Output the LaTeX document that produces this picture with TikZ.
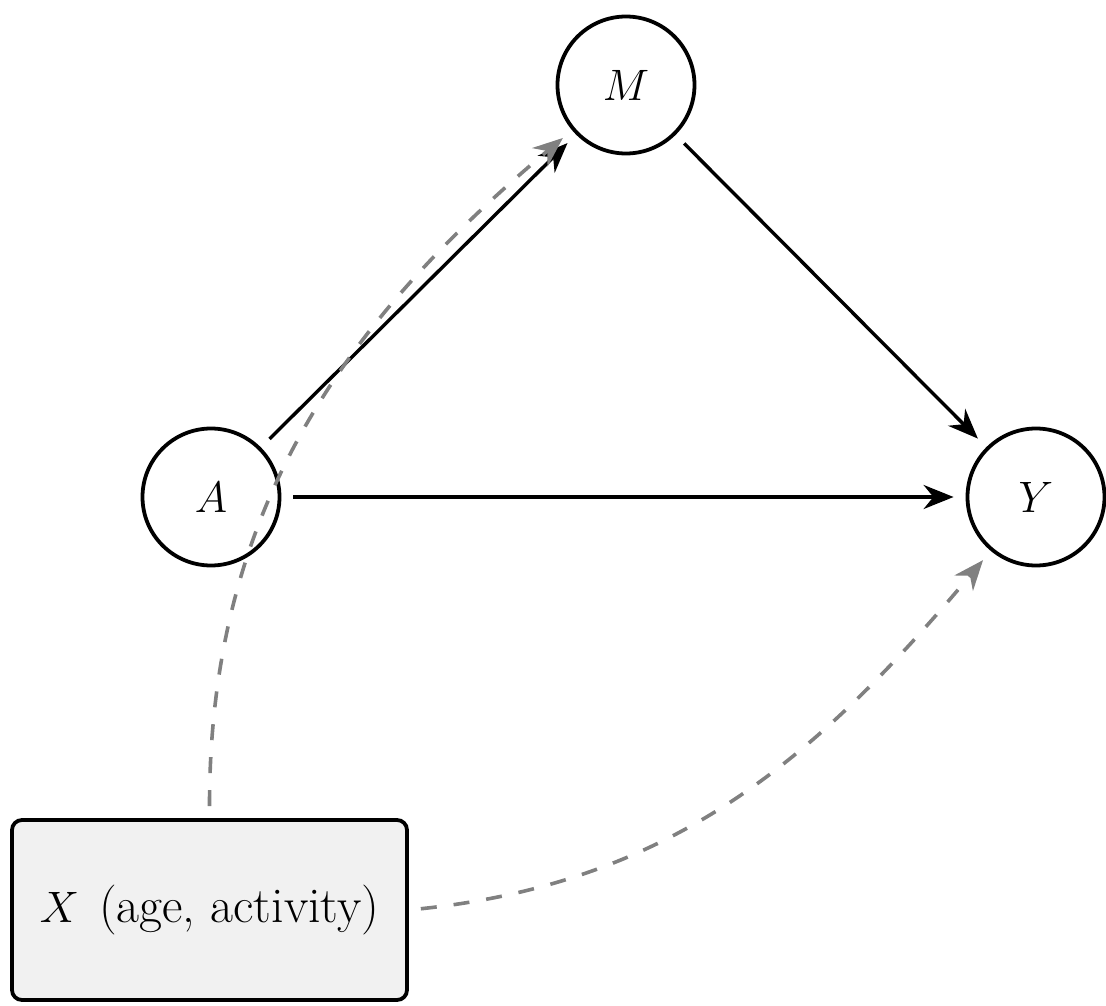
\RequirePackage{fix-cm}
\documentclass[tikz,border=0pt]{standalone}
\usetikzlibrary{arrows.meta}
\begin{document}
\begin{tikzpicture}[x=1pt,y=-1pt,
  every node/.style={font=\fontsize{44}{53}\selectfont},
  var/.style={circle,draw,line width=3.8pt,fill=white,minimum size=137pt,inner sep=0pt},
  covbox/.style={rectangle,draw,line width=3.8pt,rounded corners=10pt,fill=gray!11,
    minimum width=395pt,minimum height=180pt,inner sep=0pt},
  causal/.style={line width=3.4pt,-{Stealth[length=30pt,width=24pt]},shorten >=12pt,shorten <=12pt},
  confound/.style={line width=3.6pt,draw=gray,dash pattern=on 16pt off 17pt,
    -{Stealth[length=30pt,width=24pt,fill=gray]},shorten >=12pt,shorten <=12pt}]
  \useasboundingbox (0,0) rectangle (1106,1006);

  \node[var] (M) at (626,85) {$M$};
  \node[var] (A) at (211,497) {$A$};
  \node[var] (Y) at (1036,497) {$Y$};
  \node[covbox] (X) at (209.5,910)
    {$X$\hspace{20pt}{\fontsize{50}{60}\selectfont(age, activity)}};

  \draw[causal] (A) -- (M);
  \draw[causal] (M) -- (Y);
  \draw[causal] (A) -- (Y);

  \draw[confound] (X.north) to[out=90,in=220] (M);
  \draw[confound] (X.east) to[out=6,in=230] (Y);
\end{tikzpicture}
\end{document}
